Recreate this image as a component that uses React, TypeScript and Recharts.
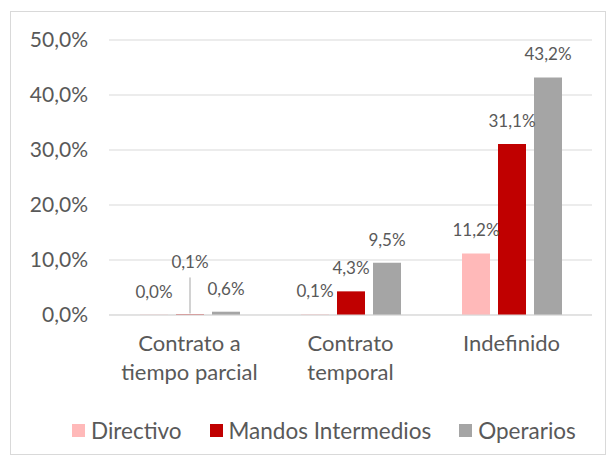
import React from "react";
import { BarChart, Bar, XAxis, YAxis, CartesianGrid, Legend, LabelList } from "recharts";

const categories = ["Contrato a tiempo parcial", "Contrato temporal", "Indefinido"];
const categoryLines = [["Contrato a", "tiempo parcial"], ["Contrato", "temporal"], ["Indefinido"]];
const directivo = [0.0, 0.1, 11.2];
const mandosIntermedios = [0.1, 4.3, 31.1];
const operarios = [0.6, 9.5, 43.2];
const yTicks = [0, 10, 20, 30, 40, 50];

const seriesNames = ["Directivo", "Mandos Intermedios", "Operarios"];
const seriesColors = ["#FFB9B9", "#C00000", "#A5A5A5"];

const data = categories.map((name, i) => ({
  name,
  directivo: directivo[i],
  mandos: mandosIntermedios[i],
  operarios: operarios[i],
}));

const FONT = "Lato, 'Open Sans', sans-serif";
const TEXT = "#595959";

const fmt = (v: number) => Number(v).toFixed(1).replace(".", ",") + "%";

const XTick = (props: any) => {
  const { x, y, index } = props;
  const lines = categoryLines[index] || [];
  return (
    <g>
      {lines.map((l, i) => (
        <text
          key={i}
          x={x}
          y={y + 28 + i * 29}
          textAnchor="middle"
          fill={TEXT}
          fontSize={22}
          fontFamily={FONT}
        >
          {l}
        </text>
      ))}
    </g>
  );
};

const makeLabel = (series: number) => (props: any) => {
  const { x, y, width, index, value } = props;
  const cx = x + width / 2;
  // leader line for the small Mandos value in the first category
  if (series === 1 && index === 0) {
    return (
      <g>
        <line x1={cx} x2={cx} y1={y - 37} y2={y - 1} stroke="#A5A5A5" strokeWidth={1} />
        <text x={cx} y={y - 52} dy="0.35em" textAnchor="middle" fill={TEXT} fontSize={17} fontFamily={FONT}>
          {fmt(value)}
        </text>
      </g>
    );
  }
  return (
    <text x={cx} y={y - 23} dy="0.35em" textAnchor="middle" fill={TEXT} fontSize={17} fontFamily={FONT}>
      {fmt(value)}
    </text>
  );
};

const renderLegend = () => (
  <div
    style={{
      display: "flex",
      alignItems: "center",
      paddingLeft: 64,
      fontFamily: FONT,
      fontSize: 22.5,
      color: TEXT,
    }}
  >
    {seriesNames.map((n, i) => (
      <div key={n} style={{ display: "flex", alignItems: "center", marginRight: 28 }}>
        <span style={{ width: 13, height: 13, background: seriesColors[i], marginRight: 6, display: "inline-block" }} />
        <span>{n}</span>
      </div>
    ))}
  </div>
);

export default function App() {
  return (
    <div style={{ position: "relative", width: 598, height: 447 }}>
      <div
        style={{
          position: "absolute",
          left: 2,
          top: 3,
          width: 596,
          height: 444,
          border: "1px solid #D9D9D9",
          boxSizing: "border-box",
        }}
      />
      <div style={{ position: "absolute", left: 0, top: 0 }}>
        <BarChart
          width={598}
          height={447}
          data={data}
          margin={{ top: 32, right: 14, left: 21, bottom: 33 }}
          barSize={28}
          barGap={8}
        >
          <CartesianGrid vertical={false} stroke="#D9D9D9" />
          <XAxis
            dataKey="name"
            tickLine={false}
            axisLine={{ stroke: "#D9D9D9" }}
            tick={<XTick />}
            height={80}
            interval={0}
          />
          <YAxis
            domain={[0, 50]}
            ticks={yTicks}
            tickFormatter={fmt}
            tickLine={false}
            axisLine={false}
            width={80}
            tick={{ fill: TEXT, fontSize: 21, fontFamily: FONT, dx: -13 }}
          />
          <Legend
            content={renderLegend}
            wrapperStyle={{ top: 409, left: 0, width: 598 }}
          />
          <Bar dataKey="directivo" fill={seriesColors[0]} minPointSize={0.3} isAnimationActive={false}>
            <LabelList dataKey="directivo" content={makeLabel(0)} />
          </Bar>
          <Bar dataKey="mandos" fill={seriesColors[1]} isAnimationActive={false}>
            <LabelList dataKey="mandos" content={makeLabel(1)} />
          </Bar>
          <Bar dataKey="operarios" fill={seriesColors[2]} isAnimationActive={false}>
            <LabelList dataKey="operarios" content={makeLabel(2)} />
          </Bar>
        </BarChart>
      </div>
    </div>
  );
}
